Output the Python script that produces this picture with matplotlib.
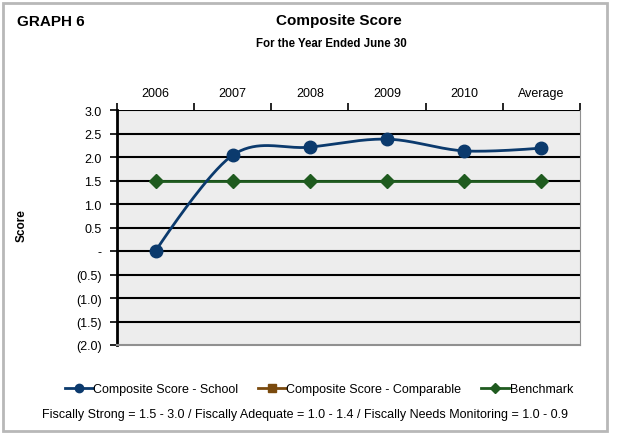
import matplotlib
matplotlib.use("Agg")
import matplotlib.pyplot as plt
import numpy as np
from matplotlib.lines import Line2D
from matplotlib.patches import Rectangle
from matplotlib.ticker import FuncFormatter

plt.rcParams['font.family'] = ['Liberation Sans', 'DejaVu Sans']

categories = ['2006', '2007', '2008', '2009', '2010', 'Average']
school = [0.0, 2.04, 2.21, 2.38, 2.13, 2.19]
benchmark = [1.5, 1.5, 1.5, 1.5, 1.5, 1.5]

navy = '#0B3A6D'
brown = '#7A4A0E'
green = '#1F5B1F'


def smooth(xs, ys, n=40):
    # Catmull-Rom style curve, similar to Excel's smoothed lines
    xs = np.asarray(xs, float)
    ys = np.asarray(ys, float)
    px = np.concatenate([[2 * xs[0] - xs[1]], xs, [2 * xs[-1] - xs[-2]]])
    py = np.concatenate([[2 * ys[0] - ys[1]], ys, [2 * ys[-1] - ys[-2]]])
    out_x, out_y = [], []
    t = np.linspace(0, 1, n)
    for i in range(1, len(px) - 2):
        p0, p1, p2, p3 = px[i - 1:i + 3]
        q0, q1, q2, q3 = py[i - 1:i + 3]
        if i == 1:
            c1x, c1y = p1, q1
        else:
            c1x, c1y = p1 + (p2 - p0) / 6, q1 + (q2 - q0) / 6
        if i == len(px) - 3:
            c2x, c2y = p2, q2
        else:
            c2x, c2y = p2 - (p3 - p1) / 6, q2 - (q3 - q1) / 6
        bx = (1 - t) ** 3 * p1 + 3 * (1 - t) ** 2 * t * c1x + 3 * (1 - t) * t ** 2 * c2x + t ** 3 * p2
        by = (1 - t) ** 3 * q1 + 3 * (1 - t) ** 2 * t * c1y + 3 * (1 - t) * t ** 2 * c2y + t ** 3 * q2
        out_x.extend(bx)
        out_y.extend(by)
    return np.array(out_x), np.array(out_y)


def fmt(v, pos):
    if abs(v) < 1e-9:
        return '-'
    if v < 0:
        return '(%.1f)' % abs(v)
    return '%.1f' % v


fig = plt.figure(figsize=(6.18, 4.35), dpi=100)
ax = fig.add_axes([0.1893, 0.2046, 0.7492, 0.5402])
ax.set_facecolor('#EDEDED')

x = np.arange(len(categories))
ax.set_xlim(-0.5, len(categories) - 0.5)
ax.set_ylim(-2.0, 3.0)

yt = np.arange(-2.0, 3.01, 0.5)
ax.set_yticks(yt)
ax.yaxis.set_major_formatter(FuncFormatter(fmt))
for v in yt[1:]:
    ax.axhline(v, color='black', lw=1.5, zorder=1)

ax.plot(x, benchmark, color=green, lw=2, marker='D', markersize=7, zorder=3)
sx, sy = smooth(x, school)
ax.plot(sx, sy, color=navy, lw=2, zorder=4)
ax.plot(x, school, ls='none', marker='o', markersize=9, color=navy, zorder=5)

# categories along the top
ax.xaxis.tick_top()
ax.set_xticks(np.arange(-0.5, len(categories) - 0.4, 1.0))
ax.set_xticklabels([])
ax.set_xticks(x, minor=True)
ax.set_xticklabels(categories, minor=True, fontsize=9)
ax.tick_params(axis='x', which='major', length=5, width=1.2, direction='out', top=True, bottom=False)
ax.tick_params(axis='x', which='minor', length=0, pad=8, top=True, bottom=False)
ax.tick_params(axis='y', length=5, width=1.2, direction='out', labelsize=9, pad=6)

ax.spines['left'].set_linewidth(2)
ax.spines['top'].set_visible(False)
ax.spines['right'].set_color('#909090')
ax.spines['bottom'].set_color('#909090')
ax.spines['bottom'].set_linewidth(1.5)

fig.text(22 / 618, 1 - 226 / 435, 'Score', rotation=90, fontsize=8.5, fontweight='bold',
         ha='center', va='center')
fig.text(17 / 618, 1 - 22 / 435, 'GRAPH 6', fontsize=11, fontweight='bold', ha='left', va='center')
fig.text(339 / 618, 1 - 21 / 435, 'Composite Score', fontsize=11, fontweight='bold',
         ha='center', va='center')
fig.text(331 / 618, 1 - 44 / 435, 'For the Year Ended June 30', fontsize=8.3,
         fontweight='bold', ha='center', va='center')

handles = [
    Line2D([], [], color=navy, lw=2, marker='o', markersize=6),
    Line2D([], [], color=brown, lw=2, marker='s', markersize=6),
    Line2D([], [], color=green, lw=2, marker='D', markersize=5),
]
labels = ['Composite Score - School', 'Composite Score - Comparable', 'Benchmark']
fig.legend(handles, labels, loc='center', bbox_to_anchor=(319 / 618, 1 - 390 / 435), ncol=3,
           frameon=False, fontsize=9, handlelength=2.2, handletextpad=0.05, columnspacing=1.6)

fig.text(305 / 618, 1 - 415 / 435,
         'Fiscally Strong = 1.5 - 3.0 / Fiscally Adequate = 1.0 - 1.4 / Fiscally Needs Monitoring = 1.0 - 0.9',
         fontsize=9, ha='center', va='center')

fig.patches.append(Rectangle((3 / 618, 3 / 435), 604 / 618, 428 / 435, transform=fig.transFigure,
                             fill=False, edgecolor='#B8B8B8', lw=2))

fig.savefig('out.png', dpi=100)
